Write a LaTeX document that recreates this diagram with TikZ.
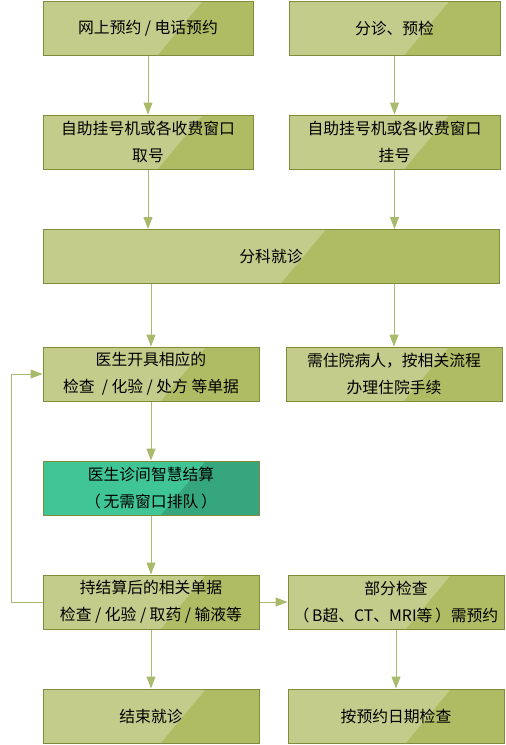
\documentclass[tikz,border=0pt]{standalone}
\usepackage{fontspec}
\setmainfont{Noto Sans CJK SC}
\usetikzlibrary{arrows.meta,calc}

\definecolor{boxlight}{HTML}{C3CC8B}
\definecolor{boxdark}{HTML}{AFBC64}
\definecolor{boxline}{HTML}{7F8C3C}
\definecolor{tealight}{HTML}{40C596}
\definecolor{teadark}{HTML}{36A67E}
\definecolor{flowline}{HTML}{A8BA6B}

\tikzset{
  stepbox/.style={draw=boxline, line width=1pt, fill=boxlight, minimum height=54pt,
    inner sep=0pt, align=center, font=\fontsize{15.8}{27}\selectfont,
    path picture={\fill[#1] ($(path picture bounding box.north)+(55pt,0)$)
      -- (path picture bounding box.north east) -- (path picture bounding box.south east)
      -- ($(path picture bounding box.south)+(10pt,0)$) -- cycle;}},
  stepbox/.default=boxdark,
  flow/.style={draw=flowline, line width=1pt, -{Triangle[width=9pt,length=12pt]}}
}

\begin{document}
\begin{tikzpicture}[x=1pt, y=-1pt]
  \useasboundingbox (0,0) rectangle (506,745);
  % top row
  \node[stepbox, minimum width=210pt] (book) at (148,28) {网上预约 / 电话预约};
  \node[stepbox, minimum width=211pt] (triage) at (394.5,28) {分诊、预检};
  \node[stepbox, minimum width=210pt] (take) at (148,142) {自助挂号机或各收费窗口\\取号};
  \node[stepbox, minimum width=211pt] (reg) at (394.5,142) {自助挂号机或各收费窗口\\挂号};
  \node[stepbox, minimum width=456pt] (visit) at (271,256.5) {分科就诊};
  % middle
  \node[stepbox, minimum width=216pt] (order) at (151,374) {医生开具相应的\\检查 \ / 化验 / 处方 等单据};
  \node[stepbox, minimum width=216pt] (ward) at (394,374) {需住院病人，按相关流程\\办理住院手续};
  \node[stepbox=teadark, fill=tealight, minimum width=216pt] (pay) at (151,488) {医生诊间智慧结算\\（\,无需窗口排队\,）};
  % bottom
  \node[stepbox, minimum width=216pt] (res) at (151,602) {持结算后的相关单据\\检查 / 化验 / 取药 / 输液等};
  \node[stepbox, minimum width=216pt] (appt) at (396,602) {部分检查\\（\,B超、CT、MRI等\,）需预约};
  \node[stepbox, minimum width=216pt] (done) at (151,716) {结束就诊};
  \node[stepbox, minimum width=216pt] (check) at (396,716) {按预约日期检查};

  \draw[flow] (book) -- (take);
  \draw[flow] (triage) -- (reg);
  \draw[flow] (take.south) -- (take.south |- visit.north);
  \draw[flow] (reg.south) -- (reg.south |- visit.north);
  \draw[flow] (visit.south -| order.north) -- (order.north);
  \draw[flow] (visit.south -| ward.north) -- (ward.north);
  \draw[flow] (order) -- (pay);
  \draw[flow] (pay) -- (res);
  \draw[flow] (res) -- (done);
  \draw[flow] (appt) -- (check);
  \draw[flow] (res) -- (appt);
  \draw[flow] (res.west) -- ++(-31,0) |- (order.west);
\end{tikzpicture}
\end{document}
